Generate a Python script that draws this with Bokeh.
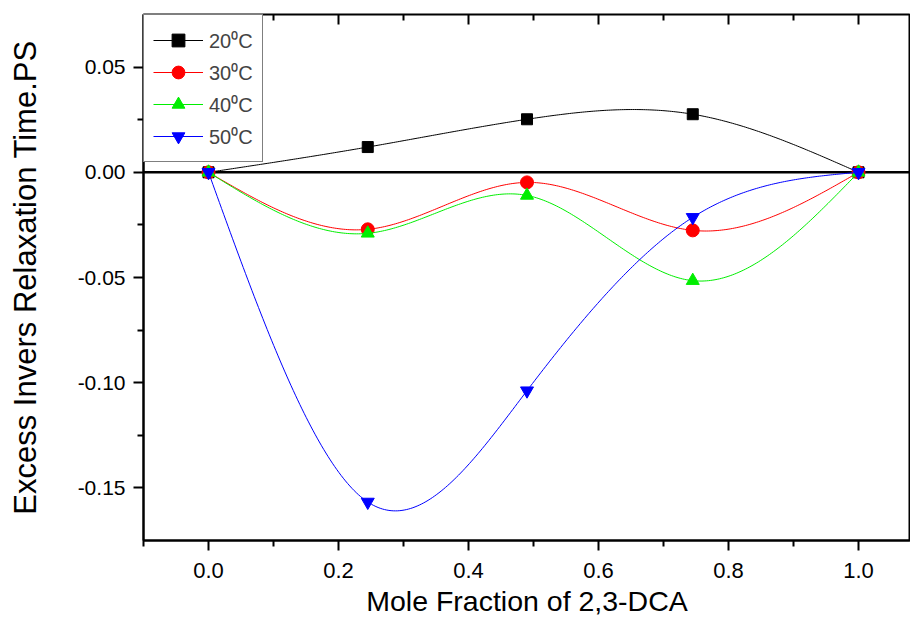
import numpy as np
from bokeh.plotting import figure
from bokeh.models import FixedTicker, PrintfTickFormatter, Span, Legend, LegendItem, Range1d
from bokeh.embed import file_html
from bokeh.resources import INLINE

x_frac = [0.0, 0.245, 0.49, 0.745, 1.0]
t20 = [0.0, 0.012, 0.0252, 0.0276, 0.0]
t30 = [0.0, -0.0271, -0.0048, -0.0276, 0.0]
t40 = [0.0, -0.029, -0.011, -0.0515, 0.0]
t50 = [0.0, -0.1567, -0.1038, -0.0214, 0.0]
labels = ["20\u2070C", "30\u2070C", "40\u2070C", "50\u2070C"]
colors = ["#000000", "#ff0000", "#00ee00", "#0000ff"]
markers = ["square", "circle", "triangle", "inverted_triangle"]
x_major = [0.0, 0.2, 0.4, 0.6, 0.8, 1.0]
x_minor = [-0.1, 0.1, 0.3, 0.5, 0.7, 0.9]
y_major = [-0.15, -0.10, -0.05, 0.0, 0.05]
y_minor = [-0.125, -0.075, -0.025, 0.025]
x_lim = (-0.1, 1.08)
y_lim = (-0.175, 0.075)


def natural_spline(xs, ys, n=300):
    xs = np.asarray(xs, float)
    ys = np.asarray(ys, float)
    k = len(xs)
    h = np.diff(xs)
    A = np.zeros((k, k))
    b = np.zeros(k)
    A[0, 0] = 1.0
    A[-1, -1] = 1.0
    for i in range(1, k - 1):
        A[i, i - 1] = h[i - 1]
        A[i, i] = 2 * (h[i - 1] + h[i])
        A[i, i + 1] = h[i]
        b[i] = 6 * ((ys[i + 1] - ys[i]) / h[i] - (ys[i] - ys[i - 1]) / h[i - 1])
    M = np.linalg.solve(A, b)
    xx = np.linspace(xs[0], xs[-1], n)
    yy = np.empty_like(xx)
    for j, xv in enumerate(xx):
        i = min(np.searchsorted(xs, xv, side="right") - 1, k - 2)
        i = max(i, 0)
        t1 = xs[i + 1] - xv
        t0 = xv - xs[i]
        yy[j] = (M[i] * t1 ** 3 + M[i + 1] * t0 ** 3) / (6 * h[i]) \
            + (ys[i] / h[i] - M[i] * h[i] / 6) * t1 \
            + (ys[i + 1] / h[i] - M[i + 1] * h[i] / 6) * t0
    return xx, yy


FONT = "Liberation Sans"

p = figure(width=910, height=620, output_backend="svg", toolbar_location=None,
           x_range=Range1d(*x_lim), y_range=Range1d(*y_lim),
           min_border_left=143, min_border_right=0, min_border_top=14, min_border_bottom=80)
p.background_fill_color = "white"
p.border_fill_color = "white"
p.outline_line_color = "black"
p.outline_line_width = 2
p.xgrid.visible = False
p.ygrid.visible = False

p.add_layout(Span(location=0, dimension="width", line_color="black", line_width=2.5, level="underlay"))

# inward ticks on the top frame edge (mirrored axis)
p.scatter(x_major, [y_lim[1]] * len(x_major), marker="dash", angle=np.pi / 2,
          size=20, line_color="black", line_width=2)
p.scatter(x_minor, [y_lim[1]] * len(x_minor), marker="dash", angle=np.pi / 2,
          size=12, line_color="black", line_width=2)

items = []
for ys, lab, col, mk in zip([t20, t30, t40, t50], labels, colors, markers):
    xx, yy = natural_spline(x_frac, ys)
    r_line = p.line(xx, yy, line_color=col, line_width=1)
    r_sc = p.scatter(x_frac, ys, marker=mk, size=13 if mk != "square" else 11,
                     fill_color=col, line_color=col)
    items.append(LegendItem(label=lab, renderers=[r_line, r_sc]))

legend = Legend(items=items, location="top_left", margin=0, padding=9, spacing=0,
                label_text_font=FONT, label_text_font_size="20px",
                glyph_width=50, glyph_height=32, label_standoff=6,
                border_line_color="black", border_line_width=1,
                background_fill_color="white", background_fill_alpha=1.0)
p.add_layout(legend)

xa = p.xaxis[0]
xa.ticker = FixedTicker(ticks=x_major, minor_ticks=x_minor)
xa.formatter = PrintfTickFormatter(format="%.1f")
xa.axis_label = "Mole Fraction of 2,3-DCA"

ya = p.yaxis[0]
ya.ticker = FixedTicker(ticks=y_major, minor_ticks=y_minor)
ya.formatter = PrintfTickFormatter(format="%.2f")
ya.axis_label = "Excess Invers Relaxation Time.PS"

for ax in (xa, ya):
    ax.axis_line_width = 2
    ax.major_tick_line_width = 2
    ax.minor_tick_line_width = 2
    ax.major_tick_out = 10
    ax.major_tick_in = 0
    ax.minor_tick_out = 6
    ax.minor_tick_in = 0
    ax.major_label_text_font = FONT
    ax.axis_label_text_font = FONT
    ax.axis_label_text_font_style = "normal"
    ax.major_label_text_color = "black"
    ax.axis_label_text_color = "black"
xa.major_label_text_font_size = "22px"
ya.major_label_text_font_size = "21px"
xa.axis_label_text_font_size = "28.5px"
ya.axis_label_text_font_size = "31px"
xa.major_label_standoff = 12
ya.major_label_standoff = 8
xa.axis_label_standoff = 4
ya.axis_label_standoff = 32

open("out.html", "w").write(file_html(p, INLINE))
